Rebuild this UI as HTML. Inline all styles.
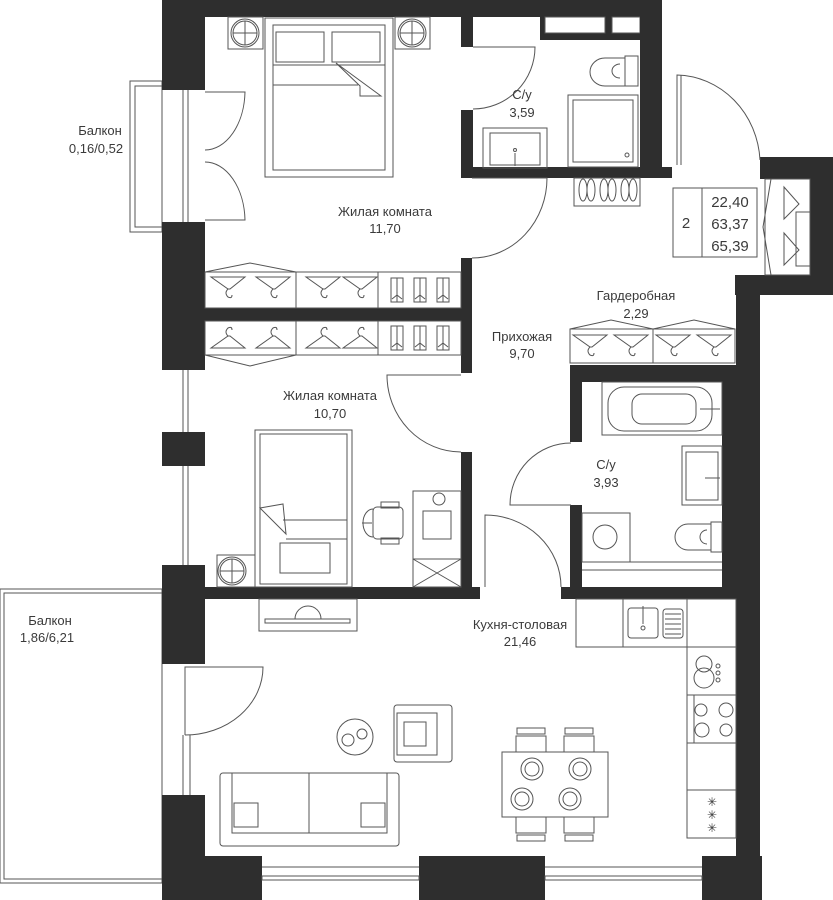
<!DOCTYPE html>
<html><head><meta charset="utf-8"><style>
html,body{margin:0;padding:0;background:#fff}
svg{display:block}
text{font-family:"Liberation Sans",sans-serif;fill:#3a3a3a;font-size:13px;text-anchor:middle}
.l{fill:none;stroke:#555;stroke-width:1}
.w{fill:#2e2e2e}
</style></head><body>
<svg width="833" height="900" viewBox="0 0 833 900" xmlns="http://www.w3.org/2000/svg">
<defs>
<g id="hg"><path class="l" d="M-17,-8 L17,-8 L2,4 L0,4 Z"/><path class="l" d="M0,4 q-4,4 0,8 q4,2 4,-2"/></g>
<g id="hu"><path class="l" d="M-17,8 L17,8 L2,-4 L0,-4 Z"/><path class="l" d="M0,-4 q-4,-4 0,-8 q4,-2 4,2"/></g>
<g id="sh"><rect class="l" x="-6" y="-12" width="12" height="24"/><path class="l" d="M0,-12 v24 M-5,9 l5,-4 l5,4"/></g>
</defs>

<!-- balconies -->
<rect class="l" x="130" y="81" width="32" height="151"/>
<rect class="l" x="135" y="86" width="27" height="141"/>
<rect class="l" x="0" y="589" width="162" height="294"/>
<rect class="l" x="4" y="593" width="158" height="286"/>
<line class="l" x1="4" y1="593" x2="4" y2="879"/>

<!-- walls -->
<rect class="w" x="162" y="0" width="500" height="17"/>
<rect class="w" x="540" y="0" width="122" height="40"/>
<rect fill="#fff" stroke="#555" x="545" y="17" width="60" height="16"/>
<rect fill="#fff" stroke="#555" x="612" y="17" width="28" height="16"/>
<rect class="w" x="640" y="0" width="22" height="167"/>
<rect class="w" x="461" y="167" width="211" height="11"/>
<rect class="w" x="461" y="17" width="12" height="30"/>
<rect class="w" x="461" y="110" width="12" height="68"/>
<rect class="w" x="162" y="0" width="43" height="90"/>
<rect class="w" x="162" y="222" width="43" height="148"/>
<rect class="w" x="162" y="432" width="43" height="34"/>
<rect class="w" x="162" y="565" width="43" height="99"/>
<rect class="w" x="162" y="795" width="43" height="105"/>
<rect class="w" x="162" y="856" width="600" height="44"/>
<rect fill="#fff" x="262" y="856" width="157" height="44"/>
<rect fill="#fff" x="545" y="856" width="157" height="44"/>
<rect class="w" x="205" y="308" width="267" height="13"/>
<rect class="w" x="461" y="258" width="11" height="115"/>
<rect class="w" x="461" y="452" width="11" height="135"/>
<rect class="w" x="162" y="587" width="318" height="12"/>
<rect class="w" x="561" y="587" width="199" height="12"/>
<rect class="w" x="570" y="365" width="190" height="17"/>
<rect class="w" x="570" y="365" width="12" height="77"/>
<rect class="w" x="570" y="505" width="12" height="94"/>
<rect class="w" x="722" y="365" width="38" height="234"/>
<rect class="w" x="736" y="295" width="24" height="605"/>
<rect class="w" x="735" y="275" width="98" height="20"/>
<rect class="w" x="810" y="157" width="23" height="120"/>
<rect class="w" x="760" y="157" width="73" height="22"/>

<!-- windows -->
<g class="l">
<line x1="183" y1="90" x2="183" y2="222"/><line x1="188" y1="90" x2="188" y2="222"/>
<line x1="183" y1="370" x2="183" y2="432"/><line x1="188" y1="370" x2="188" y2="432"/>
<line x1="183" y1="466" x2="183" y2="565"/><line x1="188" y1="466" x2="188" y2="565"/>
<line x1="183" y1="735" x2="183" y2="795"/><line x1="190" y1="735" x2="190" y2="795"/>
<rect x="262" y="876" width="157" height="4"/><rect x="545" y="876" width="157" height="4"/>
<line x1="262" y1="867" x2="419" y2="867"/><line x1="545" y1="867" x2="702" y2="867"/>
</g>

<!-- doors -->
<g class="l">
<path d="M205,92 h40 A40,60 0 0 1 205,150"/><path d="M205,220 h40 A40,60 0 0 0 205,162"/>
<path d="M473,47 h62 A62,62 0 0 1 473,109"/>
<path d="M472,178 h75 A75,80 0 0 1 472,258"/>
<path d="M461,375 h-74 A74,77 0 0 0 461,452"/>
<path d="M571,505 h-61 A61,62 0 0 1 571,443"/>
<path d="M485,587 v-72 A76,72 0 0 1 561,587"/>
<path d="M677,165 v-90 A85,90 0 0 1 760,160"/><line x1="681" y1="75" x2="681" y2="165"/>
<path d="M185,735 v-68 h78 A78,68 0 0 1 185,735"/>
</g>

<!-- bedroom 1 -->
<g class="l">
<rect x="228" y="17" width="35" height="32"/><circle cx="245" cy="33" r="14"/><circle cx="245" cy="33" r="12"/><path d="M233,33h24M245,21v24"/>
<rect x="395" y="17" width="35" height="32"/><circle cx="412" cy="33" r="14"/><circle cx="412" cy="33" r="12"/><path d="M400,33h24M412,21v24"/>
<rect x="265" y="18" width="128" height="159"/><rect x="273" y="25" width="112" height="145"/>
<path d="M276,32 h48 v30 h-48z M332,32 h48 v30 h-48z"/><path d="M273,65 h112 M273,85 h85"/>
<path d="M336,63 l45,33 l-21,0 l0,-10 z"/>
</g>
<!-- wardrobes -->
<g class="l">
<rect x="205" y="272" width="256" height="36"/><line x1="296" y1="272" x2="296" y2="308"/><line x1="378" y1="272" x2="378" y2="308"/>
<path d="M205,272 L250,263 L296,272"/>
<rect x="205" y="321" width="256" height="34"/><line x1="296" y1="321" x2="296" y2="355"/><line x1="378" y1="321" x2="378" y2="355"/>
<path d="M205,355 L250,366 L296,355"/>
</g>
<use href="#hg" x="228" y="285"/><use href="#hg" x="273" y="285"/><use href="#hg" x="323" y="285"/><use href="#hg" x="360" y="285"/>
<use href="#sh" x="397" y="290"/><use href="#sh" x="420" y="290"/><use href="#sh" x="443" y="290"/>
<use href="#hu" x="228" y="340"/><use href="#hu" x="273" y="340"/><use href="#hu" x="323" y="340"/><use href="#hu" x="360" y="340"/>
<use href="#sh" x="397" y="338"/><use href="#sh" x="420" y="338"/><use href="#sh" x="443" y="338"/>

<!-- bathroom 1 -->
<g class="l">
<rect x="483" y="128" width="64" height="40"/><rect x="490" y="133" width="50" height="32"/><circle cx="515" cy="150" r="1.5"/><line x1="515" y1="153" x2="515" y2="166"/>
<rect x="568" y="95" width="70" height="72"/><rect x="573" y="100" width="60" height="62"/><circle cx="627" cy="155" r="2"/>
<rect x="625" y="56" width="13" height="30"/><path d="M625,58 h-20 a15,14 0 0 0 0,28 h20"/><path d="M620,64 a8,7 0 0 0 0,14"/>
<rect x="574" y="178" width="66" height="28"/>
<ellipse cx="583" cy="190" rx="4" ry="11"/><ellipse cx="591" cy="190" rx="4" ry="11"/><ellipse cx="604" cy="190" rx="4" ry="11"/><ellipse cx="612" cy="190" rx="4" ry="11"/><ellipse cx="625" cy="190" rx="4" ry="11"/><ellipse cx="633" cy="190" rx="4" ry="11"/>
</g>

<!-- info box -->
<g class="l"><rect x="673" y="188" width="84" height="69"/><line x1="702" y1="188" x2="702" y2="257"/></g>
<text x="686" y="228" style="font-size:15px">2</text>
<text x="730" y="207" style="font-size:15px">22,40</text>
<text x="730" y="229" style="font-size:15px">63,37</text>
<text x="730" y="251" style="font-size:15px">65,39</text>

<!-- entry wardrobe -->
<g class="l"><rect x="765" y="179" width="45" height="96"/><path d="M771,179 L763,227 L771,275"/><rect x="796" y="212" width="14" height="54"/></g>
<g class="l"><path d="M784,187 v32 l15,-15 z"/><path d="M784,233 v32 l15,-15 z"/></g>

<!-- garderobe -->
<g class="l"><rect x="570" y="329" width="165" height="34"/><line x1="653" y1="329" x2="653" y2="363"/><path d="M570,329 L611,320 L653,329 L694,320 L735,329"/></g>
<use href="#hg" x="590" y="343"/><use href="#hg" x="631" y="343"/><use href="#hg" x="673" y="343"/><use href="#hg" x="714" y="343"/>

<!-- bedroom 2 -->
<g class="l">
<rect x="255" y="430" width="97" height="157"/><rect x="260" y="434" width="87" height="150"/>
<path d="M260,508 l23,-4 l3,30 z M283,520 h64 M286,539 h61"/><rect x="280" y="543" width="50" height="30"/>
<rect x="217" y="555" width="38" height="32"/><circle cx="232" cy="571" r="14"/><circle cx="232" cy="571" r="12"/><path d="M220,571h24M232,559v24"/>
<rect x="413" y="491" width="48" height="96"/><line x1="413" y1="559" x2="461" y2="559"/><path d="M413,559 l48,28 M461,559 l-48,28"/>
<rect x="423" y="511" width="28" height="28"/><circle cx="439" cy="499" r="6"/>
<rect x="373" y="507" width="30" height="32" rx="4"/><path d="M373,509 a10,14 0 0 0 0,28"/><rect x="381" y="502" width="18" height="6"/><rect x="381" y="538" width="18" height="6"/><line x1="362" y1="523" x2="372" y2="523"/>
</g>

<!-- bathroom 2 -->
<g class="l">
<rect x="602" y="382" width="120" height="53"/><rect x="608" y="387" width="104" height="44" rx="16"/><rect x="632" y="394" width="64" height="30" rx="10"/><line x1="700" y1="409" x2="720" y2="409"/>
<rect x="682" y="446" width="40" height="59"/><rect x="686" y="452" width="32" height="48"/><line x1="705" y1="478" x2="720" y2="478"/>
<rect x="582" y="513" width="48" height="49"/><circle cx="605" cy="537" r="12"/>
<rect x="711" y="522" width="11" height="30"/><path d="M711,524 h-23 a13,13 0 0 0 0,26 h23"/><path d="M707,530 a7,7 0 0 0 0,14"/>
<line x1="582" y1="562" x2="722" y2="562"/><line x1="582" y1="570" x2="722" y2="570"/>
</g>

<!-- kitchen -->
<g class="l">
<rect x="576" y="599" width="160" height="48"/><line x1="623" y1="599" x2="623" y2="647"/><line x1="687" y1="599" x2="687" y2="647"/>
<rect x="628" y="608" width="30" height="30" rx="3"/><line x1="643" y1="606" x2="643" y2="624"/><circle cx="643" cy="628" r="2"/>
<rect x="663" y="609" width="20" height="29" rx="3"/><path d="M665,614h16M665,619h16M665,624h16M665,629h16M665,634h16"/>
<rect x="687" y="647" width="49" height="191"/>
<circle cx="704" cy="664" r="8"/><circle cx="704" cy="678" r="10"/><circle cx="718" cy="666" r="2"/><circle cx="718" cy="673" r="2"/><circle cx="718" cy="680" r="2"/>
<line x1="687" y1="695" x2="736" y2="695"/><line x1="687" y1="743" x2="736" y2="743"/><line x1="694" y1="695" x2="694" y2="743"/>
<circle cx="701" cy="710" r="6"/><circle cx="726" cy="710" r="7"/><circle cx="702" cy="730" r="7"/><circle cx="726" cy="730" r="6"/>
<line x1="687" y1="790" x2="736" y2="790"/>
<rect x="259" y="599" width="98" height="32"/><path d="M265,619 h85 v4 h-85z"/><path d="M295,619 a13,13 0 0 1 26,0"/>
<rect x="502" y="752" width="106" height="65"/>
<rect x="516" y="736" width="30" height="16"/><rect x="517" y="728" width="28" height="6"/><rect x="564" y="736" width="30" height="16"/><rect x="565" y="728" width="28" height="6"/>
<rect x="516" y="817" width="30" height="16"/><rect x="517" y="835" width="28" height="6"/><rect x="564" y="817" width="30" height="16"/><rect x="565" y="835" width="28" height="6"/>
<circle cx="532" cy="769" r="11"/><circle cx="532" cy="769" r="7"/><circle cx="580" cy="769" r="11"/><circle cx="580" cy="769" r="7"/>
<circle cx="522" cy="799" r="11"/><circle cx="522" cy="799" r="7"/><circle cx="570" cy="799" r="11"/><circle cx="570" cy="799" r="7"/>
<rect x="220" y="773" width="179" height="73" rx="3"/><rect x="232" y="773" width="155" height="60"/><line x1="309" y1="773" x2="309" y2="833"/>
<rect x="234" y="803" width="24" height="24"/><rect x="361" y="803" width="24" height="24"/>
<rect x="394" y="705" width="58" height="57" rx="3"/><rect x="397" y="713" width="40" height="42"/><rect x="404" y="722" width="22" height="24"/>
<circle cx="355" cy="737" r="18"/><circle cx="348" cy="740" r="6"/><circle cx="362" cy="734" r="5"/>
</g>
<g style="font-size:12px"><text x="712" y="806" style="font-size:12px">✳</text><text x="712" y="819" style="font-size:12px">✳</text><text x="712" y="832" style="font-size:12px">✳</text></g>

<!-- labels -->
<text x="100" y="135">Балкон</text><text x="96" y="153">0,16/0,52</text>
<text x="385" y="216">Жилая комната</text><text x="385" y="233">11,70</text>
<text x="522" y="99">С/у</text><text x="522" y="117">3,59</text>
<text x="636" y="300">Гардеробная</text><text x="636" y="318">2,29</text>
<text x="522" y="341">Прихожая</text><text x="522" y="358">9,70</text>
<text x="330" y="400">Жилая комната</text><text x="330" y="418">10,70</text>
<text x="606" y="469">С/у</text><text x="606" y="487">3,93</text>
<text x="520" y="629">Кухня-столовая</text><text x="520" y="646">21,46</text>
<text x="50" y="625">Балкон</text><text x="47" y="642">1,86/6,21</text>
</svg>
</body></html>
